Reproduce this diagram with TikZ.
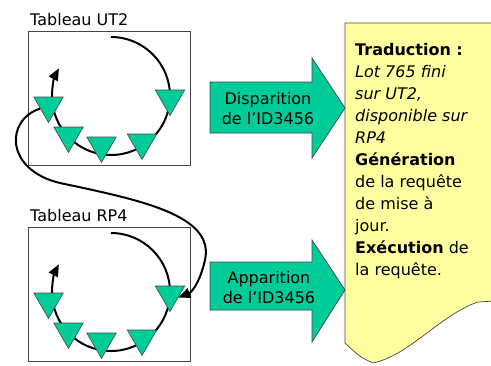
\documentclass[tikz,border=0pt]{standalone}
\usepackage{fontspec}
\setmainfont{DejaVu Sans}
\usepackage{tikz}
\usetikzlibrary{arrows.meta,calc,shapes.geometric}
\definecolor{lotgreen}{RGB}{0,204,153}
\definecolor{noteyellow}{RGB}{255,255,160}
\definecolor{edgegray}{RGB}{70,70,70}

\begin{document}
\begin{tikzpicture}[x=1pt,y=-1pt,font=\fontsize{16}{20}\selectfont,
    tri/.style={regular polygon,regular polygon sides=3,shape border rotate=180,
      draw=edgegray,fill=lotgreen,minimum size=34pt,inner sep=0pt,line width=.6pt},
    loopline/.style={line width=2pt,-{Triangle[length=12pt,width=10pt]}},
    bigarrow/.style={draw=edgegray,fill=lotgreen,line width=.7pt}]
  \clip (0,0) rectangle (491,365);
  % the two tables with their cycle of lots
  \foreach \dy/\nm/\txt in {0/ut/UT2,196/rp/RP4}{
    \draw[edgegray,line width=.8pt] (28,31+\dy) rectangle (190,165+\dy);
    \node[anchor=base west,inner sep=0] (\nm-lbl) at (30,25+\dy) {Tableau \txt};
    \draw[loopline] (111,37+\dy) arc[start angle=-90,end angle=208,radius=59];
    \node[tri] (\nm-t1) at (170,98.5+\dy) {};
    \node[tri] (\nm-t2) at (48.5,105.5+\dy) {};
    \node[tri] (\nm-t3) at (68.5,135.5+\dy) {};
    \node[tri] (\nm-t4) at (101.5,145.5+\dy) {};
    \node[tri] (\nm-t5) at (142,142.5+\dy) {};
  }
  % lot moves from UT2 to RP4
  \draw[loopline] (ut-t2.200) .. controls (5,120) and (5,170) .. (60,183)
    .. controls (140,200) and (215,215) .. (205,260)
    .. controls (200,282) and (192,292) .. (rp-t1.-20);
  % events
  \draw[bigarrow] (210,82) -- (312,82) -- (312,58) -- (345,108) -- (312,158) -- (312,133) -- (210,133) -- cycle;
  \node[align=center] (disp) at (268,109) {Disparition\\de l’ID3456};
  \draw[bigarrow] (210,262) -- (312,262) -- (312,240) -- (345,290) -- (312,342) -- (312,310) -- (210,310) -- cycle;
  \node[align=center] (appa) at (269,288) {Apparition\\de l’ID3456};
  % note
  \draw[draw=edgegray,fill=noteyellow,line width=.7pt] (345,23) -- (495,23) -- (495,301) -- (478,302)
    .. controls (440,315) and (410,355) .. (373,363) .. controls (360,357) .. (345,343) -- cycle;
  \node[anchor=north west,align=left,inner sep=0,font=\fontsize{16}{22}\selectfont] (note) at (355,43)
    {\textbf{Traduction :}\\\textit{Lot 765 fini}\\\textit{sur UT2,}\\\textit{disponible sur}\\\textit{RP4}\\
     \textbf{Génération}\\de la requête\\de mise à\\jour.\\\textbf{Exécution} de\\la requête.};
\end{tikzpicture}
\end{document}
